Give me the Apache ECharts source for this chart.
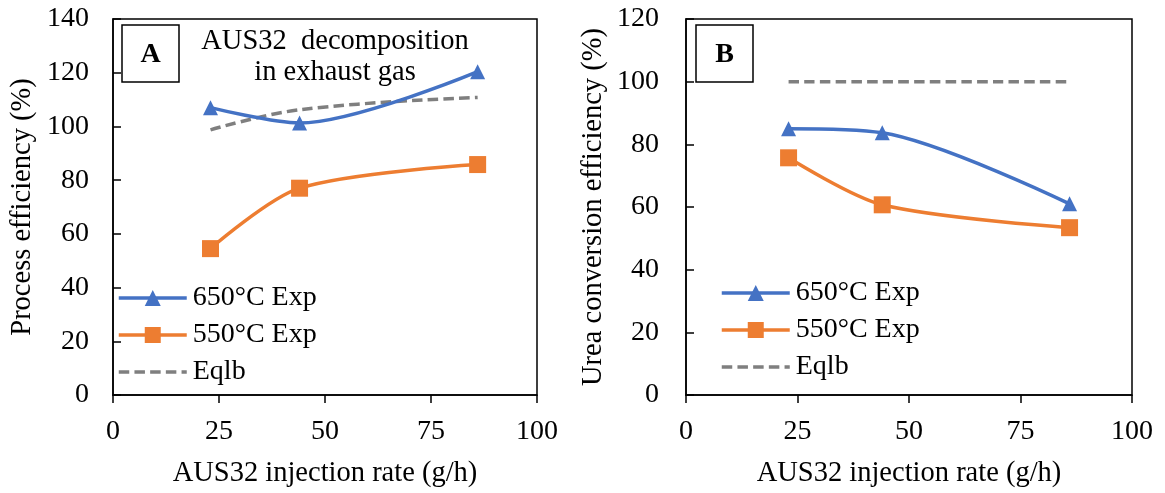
<!DOCTYPE html>
<html>
<head>
<meta charset="utf-8">
<script src="https://cdn.jsdelivr.net/npm/echarts@6/dist/echarts.min.js"></script>
<style>
  html, body { margin: 0; padding: 0; background: #fff; }
  #chart { width: 1165px; height: 493px; }
</style>
</head>
<body>
<div id="chart"></div>
<script>
// Injection rates (g/h)
const rates = [23, 44, 86];

// Panel A: process efficiency (%)
const procEff650 = [107, 101.3, 120.4];
const procEff550 = [54.5, 77, 85.8];
const procEqlb   = [98.7, 106.2, 110.8];

// Panel B: urea conversion efficiency (%)
const ureaEff650 = [85, 83.7, 61];
const ureaEff550 = [75.7, 60.7, 53.4];
const ureaEqlb   = [100, 100, 100];

const seriesNames = ['650°C Exp', '550°C Exp', 'Eqlb'];
const xTicks = [0, 25, 50, 75, 100];

const FONT = 'Liberation Serif, Times New Roman, serif';
const BLUE = '#4472C4', ORANGE = '#ED7D31', GREY = '#7F7F7F';

const pair = ys => rates.map((x, i) => [x, ys[i]]);

function xAxisFor(gridIndex) {
  return {
    gridIndex, type: 'value', min: 0, max: 100, interval: 25,
    name: 'AUS32 injection rate (g/h)', nameLocation: 'middle', nameGap: 64,
    nameTextStyle: { fontFamily: FONT, fontSize: 28.5, color: '#000' },
    axisLine: { show: true, lineStyle: { color: '#000', width: 1.5 } },
    axisTick: { show: true, inside: false, length: 8, lineStyle: { color: '#000', width: 1.5 } },
    axisLabel: { fontFamily: FONT, fontSize: 28, color: '#000', margin: 23,
                 formatter: v => xTicks.includes(v) ? String(v) : '' },
    splitLine: { show: false }
  };
}

function yAxisFor(gridIndex, max, name, nameGap, margin) {
  return {
    gridIndex, type: 'value', min: 0, max, interval: 20,
    name, nameLocation: 'middle', nameGap,
    nameTextStyle: { fontFamily: FONT, fontSize: 28.5, color: '#000' },
    axisLine: { show: true, lineStyle: { color: '#000', width: 1.5 } },
    axisTick: { show: true, inside: true, length: 8, lineStyle: { color: '#000', width: 1.5 } },
    axisLabel: { fontFamily: FONT, fontSize: 28, color: '#000', margin },
    splitLine: { show: false }
  };
}

function expSeries(name, data, idx, color, symbol, size) {
  return {
    name, type: 'line', xAxisIndex: idx, yAxisIndex: idx, data: pair(data),
    smooth: 0.3, symbol, symbolSize: size, showSymbol: true,
    lineStyle: { color, width: 3.5 }, itemStyle: { color, borderWidth: 0 },
    z: 3
  };
}

function eqlbSeries(data, idx) {
  return {
    name: 'Eqlb', type: 'line', xAxisIndex: idx, yAxisIndex: idx, data: pair(data),
    smooth: 0.4, symbol: 'none',
    lineStyle: { color: GREY, width: 3.5, type: [10.5, 5.2] },
    itemStyle: { color: GREY },
    z: 2
  };
}

function legendFor(left, top) {
  return {
    data: [
      { name: seriesNames[0] },
      { name: seriesNames[1] },
      // the equilibrium entry shows only its dashed line
      { name: seriesNames[2], itemStyle: { color: 'rgba(0,0,0,0)', opacity: 0 } }
    ],
    orient: 'vertical', left, top, padding: 0,
    itemWidth: 68, itemHeight: 20, itemGap: 9,
    lineStyle: { width: 3.5 },
    textStyle: { fontFamily: FONT, fontSize: 28, color: '#000', lineHeight: 28, padding: [0, 0, 0, 1] },
    selectedMode: false
  };
}

function panelBox(x, letter) {
  return [
    { type: 'rect', shape: { x, y: 25, width: 57, height: 57 },
      style: { fill: '#fff', stroke: '#000', lineWidth: 1.5 }, z: 10 },
    { type: 'text', x: x + 28.5, y: 54.5,
      style: { text: letter, font: 'bold 28px ' + FONT, fill: '#000',
               textAlign: 'center', textVerticalAlign: 'middle' }, z: 11 }
  ];
}

const chart = echarts.init(document.getElementById('chart'), null, { renderer: 'canvas' });
chart.setOption({
  animation: false,
  backgroundColor: '#fff',
  grid: [
    { left: 113, top: 19, width: 424, height: 381, show: true, borderColor: '#000', borderWidth: 1.5 },
    { left: 686, top: 19, width: 446, height: 381, show: true, borderColor: '#000', borderWidth: 1.5 }
  ],
  xAxis: [xAxisFor(0), xAxisFor(1)],
  yAxis: [
    yAxisFor(0, 140, 'Process efficiency (%)', 76, 24),
    yAxisFor(1, 120, 'Urea conversion efficiency (%)', 78, 27)
  ],
  legend: [legendFor(117, 284), legendFor(720, 279)],
  series: [
    expSeries('650°C Exp', procEff650, 0, BLUE, 'triangle', 15),
    expSeries('550°C Exp', procEff550, 0, ORANGE, 'rect', 17),
    eqlbSeries(procEqlb, 0),
    expSeries('650°C Exp', ureaEff650, 1, BLUE, 'triangle', 15),
    expSeries('550°C Exp', ureaEff550, 1, ORANGE, 'rect', 17),
    eqlbSeries(ureaEqlb, 1)
  ],
  graphic: [
    ...panelBox(122, 'A'),
    ...panelBox(696, 'B'),
    { type: 'text', x: 335, y: 42, z: 11,
      style: { text: 'AUS32  decomposition', font: '28.5px ' + FONT, fill: '#000',
               textAlign: 'center', textVerticalAlign: 'middle' } },
    { type: 'text', x: 335, y: 73, z: 11,
      style: { text: 'in exhaust gas', font: '28.5px ' + FONT, fill: '#000',
               textAlign: 'center', textVerticalAlign: 'middle' } }
  ]
});
</script>
</body>
</html>
